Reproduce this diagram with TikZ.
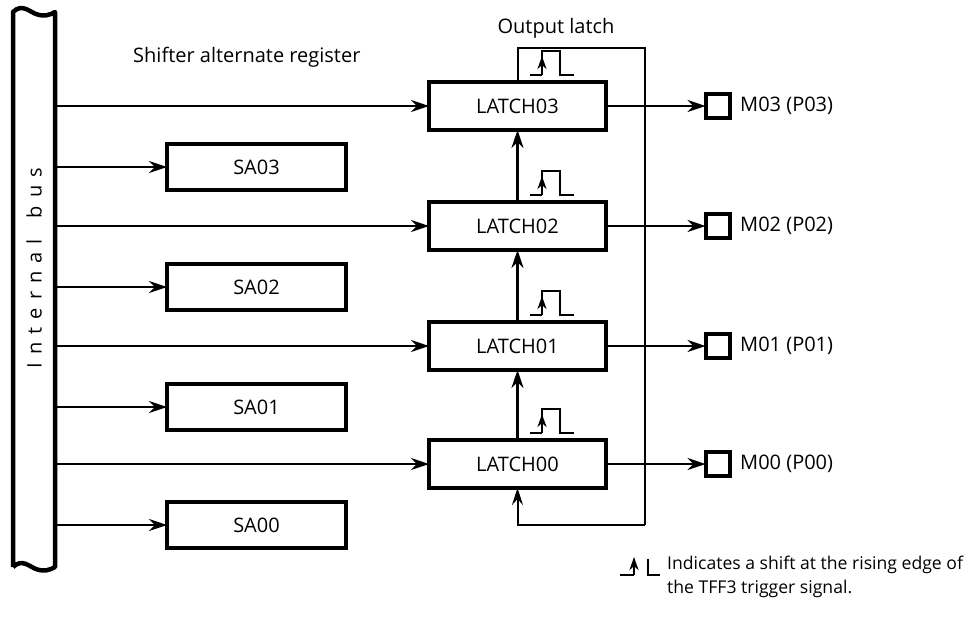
\documentclass[tikz,border=0pt]{standalone}
\usepackage{fontspec}
\setmainfont{Open Sans}
\usetikzlibrary{arrows.meta}
\begin{document}
\begin{tikzpicture}[x=1pt,y=-1pt,
  txt/.style={font=\fontsize{20}{24}\selectfont, inner sep=0pt},
  latchbox/.style={draw, line width=4.5pt, minimum width=177pt, minimum height=48pt, inner sep=0pt, outer sep=0pt, font=\fontsize{20}{24}\selectfont},
  sabox/.style={draw, line width=4pt, minimum width=179pt, minimum height=46pt, inner sep=0pt, outer sep=0pt, font=\fontsize{20}{24}\selectfont},
  mbox/.style={draw, line width=4pt, minimum width=24pt, minimum height=24pt, inner sep=0pt, outer sep=0pt},
  conn/.style={line width=2.5pt, -{Stealth[length=18pt,width=12pt,inset=6pt]}},
  loopline/.style={line width=2pt},
  bus/.style={line width=4.5pt, line join=round},
  pulseline/.style={line width=2.2pt}
]
\useasboundingbox (0,0) rectangle (974,630);

% internal bus
\draw[bus] (13,567) -- (13,12)
  .. controls (22,3) and (30,12) .. (36,14)
  .. controls (44,17) and (50,15) .. (55,12)
  -- (55,567)
  .. controls (50,570) and (44,572) .. (36,569)
  .. controls (30,567) and (22,558) .. (13,567);
\node[txt, rotate=90] (busl) at (34,268) {\addfontfeatures{LetterSpace=40}Internal\hspace{8pt} bus};

% latches
\node[latchbox] (l03) at (517.5,106) {LATCH03};
\node[latchbox] (l02) at (517.5,226) {LATCH02};
\node[latchbox] (l01) at (517.5,346) {LATCH01};
\node[latchbox] (l00) at (517.5,464) {LATCH00};

% shifter alternate registers
\node[sabox] (s03) at (256.5,167) {SA03};
\node[sabox] (s02) at (256.5,287) {SA02};
\node[sabox] (s01) at (256.5,407) {SA01};
\node[sabox] (s00) at (256.5,525) {SA00};

% bus taps
\coordinate (b03) at (55,106);
\coordinate (c03) at (55,167);
\coordinate (b02) at (55,226);
\coordinate (c02) at (55,287);
\coordinate (b01) at (55,346);
\coordinate (c01) at (55,407);
\coordinate (b00) at (55,464);
\coordinate (c00) at (55,525);
\draw[conn] (b03) -- (l03.west);
\draw[conn] (b02) -- (l02.west);
\draw[conn] (b01) -- (l01.west);
\draw[conn] (b00) -- (l00.west);
\draw[conn] (c03) -- (s03.west);
\draw[conn] (c02) -- (s02.west);
\draw[conn] (c01) -- (s01.west);
\draw[conn] (c00) -- (s00.west);

% shift chain
\draw[conn] (l00.north) -- (l01.south);
\draw[conn] (l01.north) -- (l02.south);
\draw[conn] (l02.north) -- (l03.south);

% feedback loop
\coordinate (lt) at (645,48);
\coordinate (lb) at (645,525);
\draw[loopline] (l03.north) |- (lt) -- (lb);
\draw[loopline, -{Stealth[length=17pt,width=11pt,inset=6pt]}] (lb) -| (l00.south);

% outputs
\node[mbox] (m03) at (717.5,106) {};
\node[mbox] (m02) at (717.5,226) {};
\node[mbox] (m01) at (717.5,346) {};
\node[mbox] (m00) at (717.5,464) {};
\draw[conn] (l03.east) -- (m03.west);
\draw[conn] (l02.east) -- (m02.west);
\draw[conn] (l01.east) -- (m01.west);
\draw[conn] (l00.east) -- (m00.west);
\node[txt, anchor=west] (t03) at (740,106) {M03 (P03)};
\node[txt, anchor=west] (t02) at (740,226) {M02 (P02)};
\node[txt, anchor=west] (t01) at (740,346) {M01 (P01)};
\node[txt, anchor=west] (t00) at (740,464) {M00 (P00)};

% pulse symbols
\foreach \py in {75,195,315,433} {
  \draw[pulseline] (530,\py) -- (542,\py);
  \draw[pulseline, -{Stealth[length=13pt,width=9pt,inset=4pt]}] (542,\py) -- (542,\py-19);
  \draw[pulseline] (542,\py-17) -- (542,\py-24) -- (560,\py-24) -- (560,\py) -- (574,\py);
}

% labels
\node[txt, anchor=base west] (sar) at (133,62) {Shifter alternate register};
\node[txt] (ol) at (556,28) {Output latch};

% legend
\draw[pulseline] (620,575) -- (634,575);
\draw[pulseline, -{Stealth[length=13pt,width=9pt,inset=4pt]}] (634,575) -- (634,557);
\draw[pulseline] (648,559) -- (648,575) -- (660,575);
\node[anchor=north west, align=left, inner sep=0pt, font=\fontsize{17.6}{24}\selectfont] (note) at (667,556) {Indicates a shift at the rising edge of\\the TFF3 trigger signal.};
\end{tikzpicture}
\end{document}
